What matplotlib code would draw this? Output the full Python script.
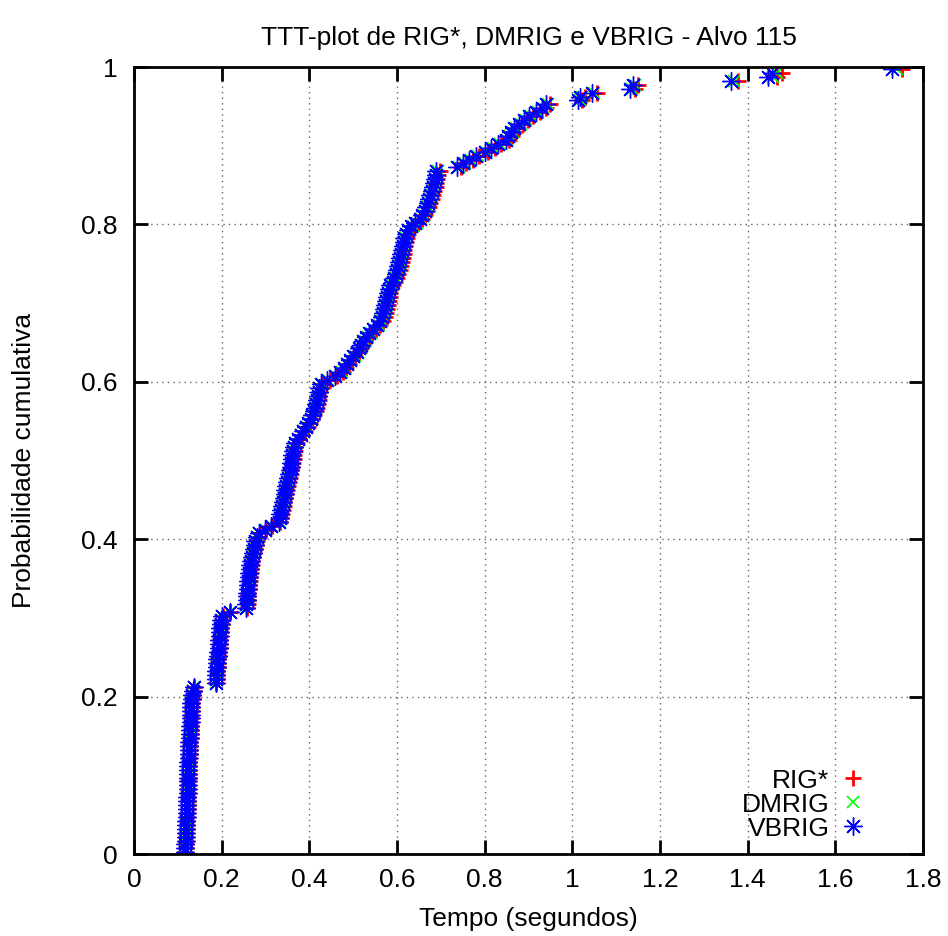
import numpy as np
import matplotlib
matplotlib.use("Agg")
import matplotlib.pyplot as plt
from matplotlib.ticker import FuncFormatter, MultipleLocator

plt.rcParams['font.family'] = ['Liberation Sans', 'DejaVu Sans']

# Sorted run times (seconds)
vbrig = [
    0.116, 0.117, 0.117, 0.118, 0.118, 0.118, 0.119, 0.119, 0.119, 0.120,
    0.120, 0.120, 0.121, 0.121, 0.121, 0.122, 0.122, 0.122, 0.123, 0.123,
    0.123, 0.124, 0.124, 0.124, 0.125, 0.125, 0.126, 0.126, 0.126, 0.127,
    0.127, 0.128, 0.128, 0.129, 0.129, 0.130, 0.130, 0.131, 0.131, 0.132,
    0.133, 0.134, 0.136,
    0.186, 0.187, 0.188, 0.188, 0.189, 0.190, 0.190, 0.191, 0.192, 0.193,
    0.193, 0.194, 0.195, 0.196, 0.197, 0.198, 0.199, 0.200,
    0.218,
    0.255, 0.256, 0.257, 0.257, 0.258, 0.259, 0.260, 0.261, 0.262, 0.263,
    0.264, 0.265, 0.267, 0.269, 0.271, 0.273, 0.275, 0.277, 0.280, 0.284,
    0.298, 0.312, 0.330,
    0.332, 0.334, 0.336, 0.338, 0.340, 0.342, 0.344, 0.345, 0.347, 0.349,
    0.351, 0.353, 0.355, 0.357, 0.358, 0.360, 0.361, 0.363, 0.364, 0.368,
    0.373, 0.380, 0.386, 0.392, 0.398, 0.403, 0.407, 0.410, 0.413, 0.415,
    0.417, 0.419, 0.421, 0.423, 0.426, 0.440, 0.458, 0.471, 0.478, 0.485,
    0.492, 0.500, 0.508, 0.513, 0.518, 0.523, 0.530, 0.537, 0.545, 0.555,
    0.562, 0.566, 0.569, 0.571, 0.573, 0.575, 0.577, 0.579, 0.581, 0.585,
    0.590, 0.594, 0.597, 0.600, 0.603, 0.605, 0.607, 0.609, 0.611, 0.613,
    0.615, 0.617, 0.620, 0.625, 0.633, 0.642, 0.652, 0.658, 0.663, 0.667,
    0.670, 0.673, 0.676, 0.679, 0.682, 0.684, 0.686, 0.688, 0.690, 0.737,
    0.750, 0.765, 0.780, 0.800, 0.815, 0.830, 0.848, 0.853, 0.860, 0.868,
    0.878, 0.890, 0.902, 0.918, 0.930, 0.940, 1.012, 1.018, 1.045, 1.132,
    1.138, 1.362, 1.446, 1.455, 1.730,
]

rig = [
    0.117, 0.118, 0.118, 0.119, 0.119, 0.119, 0.120, 0.120, 0.121, 0.121,
    0.121, 0.122, 0.122, 0.122, 0.123, 0.123, 0.123, 0.124, 0.124, 0.125,
    0.125, 0.125, 0.126, 0.126, 0.126, 0.127, 0.127, 0.128, 0.128, 0.129,
    0.129, 0.129, 0.130, 0.130, 0.131, 0.131, 0.132, 0.132, 0.133, 0.134,
    0.134, 0.136, 0.137,
    0.188, 0.189, 0.190, 0.190, 0.191, 0.192, 0.192, 0.193, 0.194, 0.195,
    0.195, 0.196, 0.197, 0.198, 0.199, 0.200, 0.201, 0.202,
    0.220,
    0.258, 0.259, 0.260, 0.260, 0.261, 0.262, 0.263, 0.264, 0.265, 0.266,
    0.267, 0.268, 0.270, 0.272, 0.274, 0.276, 0.278, 0.280, 0.283, 0.287,
    0.301, 0.315, 0.333,
    0.335, 0.337, 0.339, 0.341, 0.343, 0.345, 0.347, 0.349, 0.351, 0.353,
    0.355, 0.357, 0.359, 0.361, 0.362, 0.364, 0.365, 0.367, 0.368, 0.372,
    0.377, 0.384, 0.390, 0.396, 0.402, 0.407, 0.411, 0.414, 0.417, 0.419,
    0.421, 0.423, 0.425, 0.428, 0.431, 0.446, 0.464, 0.476, 0.483, 0.490,
    0.497, 0.505, 0.513, 0.518, 0.523, 0.528, 0.535, 0.543, 0.551, 0.561,
    0.568, 0.572, 0.575, 0.577, 0.579, 0.581, 0.583, 0.585, 0.587, 0.591,
    0.596, 0.600, 0.603, 0.606, 0.609, 0.611, 0.613, 0.615, 0.617, 0.619,
    0.621, 0.623, 0.626, 0.631, 0.639, 0.648, 0.658, 0.664, 0.669, 0.673,
    0.676, 0.679, 0.682, 0.685, 0.688, 0.690, 0.692, 0.694, 0.697, 0.745,
    0.758, 0.773, 0.788, 0.808, 0.823, 0.838, 0.856, 0.862, 0.869, 0.877,
    0.887, 0.899, 0.911, 0.927, 0.939, 0.950, 1.022, 1.028, 1.056, 1.143,
    1.150, 1.378, 1.468, 1.478, 1.752,
]

dmrig = [
    0.116, 0.117, 0.118, 0.118, 0.118, 0.119, 0.119, 0.120, 0.120, 0.120,
    0.121, 0.121, 0.121, 0.122, 0.122, 0.122, 0.123, 0.123, 0.123, 0.124,
    0.124, 0.124, 0.125, 0.125, 0.125, 0.126, 0.126, 0.127, 0.127, 0.128,
    0.128, 0.128, 0.129, 0.129, 0.130, 0.130, 0.131, 0.131, 0.132, 0.133,
    0.134, 0.135, 0.136,
    0.187, 0.188, 0.189, 0.189, 0.190, 0.191, 0.191, 0.192, 0.193, 0.194,
    0.194, 0.195, 0.196, 0.197, 0.198, 0.199, 0.200, 0.201,
    0.219,
    0.256, 0.257, 0.258, 0.259, 0.260, 0.261, 0.262, 0.263, 0.264, 0.265,
    0.266, 0.267, 0.269, 0.271, 0.273, 0.275, 0.277, 0.279, 0.282, 0.286,
    0.300, 0.314, 0.332,
    0.333, 0.335, 0.337, 0.339, 0.341, 0.343, 0.345, 0.347, 0.349, 0.351,
    0.353, 0.355, 0.357, 0.359, 0.360, 0.362, 0.363, 0.365, 0.366, 0.370,
    0.375, 0.382, 0.388, 0.394, 0.400, 0.405, 0.409, 0.412, 0.415, 0.417,
    0.419, 0.421, 0.423, 0.425, 0.428, 0.443, 0.461, 0.474, 0.481, 0.488,
    0.495, 0.503, 0.511, 0.516, 0.521, 0.526, 0.533, 0.540, 0.548, 0.558,
    0.565, 0.569, 0.572, 0.574, 0.576, 0.578, 0.580, 0.582, 0.584, 0.588,
    0.593, 0.597, 0.600, 0.603, 0.606, 0.608, 0.610, 0.612, 0.614, 0.616,
    0.618, 0.620, 0.623, 0.628, 0.636, 0.645, 0.655, 0.661, 0.666, 0.670,
    0.673, 0.676, 0.679, 0.682, 0.685, 0.687, 0.689, 0.691, 0.693, 0.741,
    0.754, 0.769, 0.784, 0.804, 0.819, 0.834, 0.852, 0.857, 0.864, 0.872,
    0.882, 0.894, 0.906, 0.922, 0.934, 0.945, 1.017, 1.023, 1.050, 1.137,
    1.144, 1.369, 1.457, 1.466, 1.741,
]

series_names = ["RIG*", "DMRIG", "VBRIG"]
title = "TTT-plot de RIG*, DMRIG e VBRIG - Alvo 115"
xlabel = "Tempo (segundos)"
ylabel = "Probabilidade cumulativa"


def ttt_prob(times):
    n = len(times)
    return (np.arange(1, n + 1) - 0.5) / n


FS = 19

fig = plt.figure(figsize=(9.48, 9.36), dpi=100)
ax = fig.add_axes([0.1414, 0.0873, 0.8322, 0.8411])

styles = [
    dict(color='#ff0000', marker='+', ms=11, mew=2.0),
    dict(color='#00ff00', marker='x', ms=9, mew=1.2),
    dict(color='#0000ff', marker=(8, 2, 0), ms=13, mew=1.0),
]
for name, data, st in zip(series_names, [rig, dmrig, vbrig], styles):
    xs = np.sort(np.array(data))
    ax.plot(xs, ttt_prob(xs), linestyle='none', label=name,
            marker=st['marker'], markersize=st['ms'], markeredgewidth=st['mew'],
            color=st['color'])

ax.set_xlim(0, 1.8)
ax.set_ylim(0, 1)
ax.xaxis.set_major_locator(MultipleLocator(0.2))
ax.yaxis.set_major_locator(MultipleLocator(0.2))
fmt = FuncFormatter(lambda v, p: ('%g' % round(v, 6)))
ax.xaxis.set_major_formatter(fmt)
ax.yaxis.set_major_formatter(fmt)
ax.tick_params(direction='in', length=10, width=2, top=True, right=True,
               labelsize=FS)
ax.tick_params(axis='x', pad=10)
ax.tick_params(axis='y', pad=12)
for sp in ax.spines.values():
    sp.set_linewidth(2)
ax.grid(True, linestyle=(0, (1, 3)), color='#666666', linewidth=1)
ax.set_axisbelow(True)

ax.set_title(title, fontsize=FS, pad=16)
ax.set_xlabel(xlabel, fontsize=FS, labelpad=11)
ax.set_ylabel(ylabel, fontsize=FS, labelpad=32)

leg = ax.legend(loc='lower right', bbox_to_anchor=(0.941, 0.004), frameon=False,
                markerfirst=False, fontsize=FS, handlelength=1.0,
                handletextpad=0.38, labelspacing=0.0, borderaxespad=0.0)
for t in leg.get_texts():
    t.set_ha('right')

fig.savefig('out.png', dpi=100)
